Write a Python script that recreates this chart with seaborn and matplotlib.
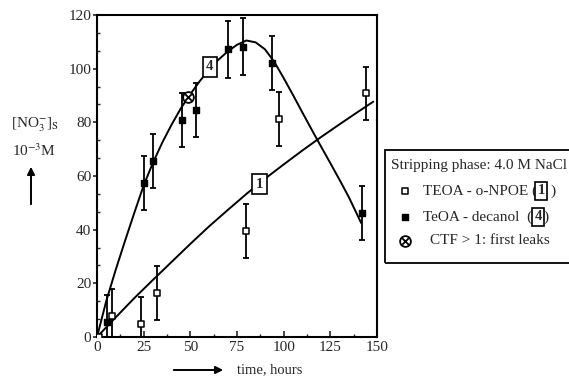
import numpy as np
import pandas as pd
import matplotlib
matplotlib.use("Agg")
import matplotlib.pyplot as plt
import seaborn as sns
from matplotlib.ticker import MultipleLocator, AutoMinorLocator
from matplotlib.patches import Rectangle

# --- datos ---
# TEOA - o-NPOE (1), cuadrados abiertos
t_npoe = [1.0, 8.2, 23.4, 32.3, 79.8, 97.5, 144.1]
y_npoe = [0.0, 7.8, 4.8, 16.5, 39.6, 81.2, 90.8]
e_npoe = [0.0, 10, 10, 10, 10, 10, 10]

# TeOA - decanol (4), cuadrados llenos
t_dec = [5.4, 25.4, 30.2, 45.7, 53.0, 70.0, 78.4, 93.6, 141.8]
y_dec = [5.7, 57.3, 65.7, 80.9, 84.6, 107.2, 108.2, 102.0, 46.1]
e_dec = [10, 10, 10, 10, 10, 10.5, 10.5, 10, 10]

# curvas trazadas a mano
curva1_t = [0, 10, 20, 30, 40, 50, 60, 70, 80, 90, 100, 110, 120, 130, 140, 148]
curva1_y = [0, 7.3, 14.5, 21.3, 28, 34.7, 41.2, 47.3, 53.3, 59, 64.3, 69.5, 74.5, 79.3, 84, 87.7]

curva4_t = [0, 5, 10, 15, 20, 25, 30, 35, 40, 45, 50, 55, 60, 65, 70, 75, 80, 85, 90,
            95, 100, 105, 110, 115, 120, 125, 130, 135, 141.5]
curva4_y = [0, 13.5, 25, 35.8, 46.3, 56.5, 65, 72.5, 79.2, 85.3, 90.5, 95.3, 99.6, 103.3,
            106.4, 108.9, 110.5, 109.8, 107.2, 102.5, 96.5, 90.2, 83.7, 77.3, 71, 64.8,
            58.5, 52, 42.5]

# primera fuga (CTF > 1)
ctf_t = [49.0]
ctf_y = [89.6]

# etiquetas de curva
etiq_txt = ["1", "4"]
etiq_t = [87.0, 60.5]
etiq_y = [57.0, 100.7]

sns.set_style("ticks")
plt.rcParams['font.family'] = ['Liberation Serif', 'DejaVu Serif']
plt.rcParams['mathtext.fontset'] = 'stix'

W, H = 569, 379
fig = plt.figure(figsize=(W / 100, H / 100), dpi=100)
ax = fig.add_axes([97 / W, 1 - 337 / H, 280 / W, 322 / H])


def px(x, y):
    return (x / W, 1 - y / H)


df1 = pd.DataFrame({'t': curva1_t, 'y': curva1_y})
df4 = pd.DataFrame({'t': curva4_t, 'y': curva4_y})
sns.lineplot(data=df1, x='t', y='y', color='black', lw=1.4, ax=ax, zorder=2)
sns.lineplot(data=df4, x='t', y='y', color='black', lw=1.4, ax=ax, zorder=2)

ax.errorbar(t_npoe, y_npoe, yerr=e_npoe, fmt='none', ecolor='black', elinewidth=1.3,
            capsize=2.4, capthick=1.3, zorder=3)
ax.errorbar(t_dec, y_dec, yerr=e_dec, fmt='none', ecolor='black', elinewidth=1.3,
            capsize=2.4, capthick=1.3, zorder=3)

sns.scatterplot(x=t_npoe, y=y_npoe, marker='s', s=16, facecolor='white',
                edgecolor='black', linewidth=1.1, ax=ax, zorder=4)
sns.scatterplot(x=t_dec, y=y_dec, marker='s', s=16, color='black',
                edgecolor='black', linewidth=1.0, ax=ax, zorder=4)
sns.scatterplot(x=ctf_t, y=ctf_y, marker='o', s=60, facecolor='white',
                edgecolor='black', linewidth=1.3, ax=ax, zorder=5)
sns.scatterplot(x=ctf_t, y=ctf_y, marker='x', s=22, color='black',
                linewidth=1.3, ax=ax, zorder=6)

for txt, tx, ty in zip(etiq_txt, etiq_t, etiq_y):
    ax.text(tx, ty, txt, ha='center', va='center', fontsize=10.5, fontweight='bold',
            zorder=7, bbox=dict(boxstyle='square,pad=0.25', fc='white', ec='black', lw=1.2))

ax.set_xlim(0, 150)
ax.set_ylim(0, 120)
ax.xaxis.set_major_locator(MultipleLocator(25))
ax.xaxis.set_minor_locator(AutoMinorLocator(2))
ax.yaxis.set_major_locator(MultipleLocator(20))
ax.yaxis.set_minor_locator(AutoMinorLocator(3))
ax.tick_params(axis='x', which='major', direction='in', length=4, width=1.2, labelsize=11, pad=3)
ax.tick_params(axis='x', which='minor', direction='in', length=2.5, width=1)
ax.tick_params(axis='y', which='major', direction='out', length=3, width=1.2, labelsize=11, pad=1)
ax.tick_params(axis='y', which='minor', direction='in', length=2.5, width=1)
for sp in ax.spines.values():
    sp.set_visible(True)
    sp.set_linewidth(1.5)
    sp.set_color('black')
ax.set_xlabel('')
ax.set_ylabel('')

# etiqueta del eje y con flecha
fig.text(*px(35, 125), r'[NO$_3^{-}$]$_{\rm S}$', ha='center', va='center', fontsize=11)
fig.text(*px(34, 151), r'10$^{-3}$M', ha='center', va='center', fontsize=11)
ax.annotate('', xy=px(31, 164), xytext=px(31, 207), xycoords='figure fraction',
            textcoords='figure fraction',
            arrowprops=dict(arrowstyle='-|>', color='black', lw=1.4, mutation_scale=11))

# etiqueta del eje x con flecha
ax.annotate('', xy=px(226, 370), xytext=px(171, 370), xycoords='figure fraction',
            textcoords='figure fraction',
            arrowprops=dict(arrowstyle='-|>', color='black', lw=1.4, mutation_scale=11))
fig.text(*px(237, 370), 'time, hours', ha='left', va='center', fontsize=10.5)

# leyenda dibujada a mano
fig.add_artist(Rectangle(px(385, 263), 200 / W, 113 / H, transform=fig.transFigure,
                         fill=False, ec='black', lw=1.3, clip_on=False))
fig.text(*px(391, 166), 'Stripping phase: 4.0 M NaCl', ha='left', va='center', fontsize=11)
t1 = fig.text(*px(423, 191), 'TEOA - o-NPOE (', ha='left', va='center', fontsize=11)
t4 = fig.text(*px(423, 217), 'TeOA - decanol  (', ha='left', va='center', fontsize=11)
fig.text(*px(430, 241), 'CTF > 1: first leaks', ha='left', va='center', fontsize=11)

fig.canvas.draw()
ren = fig.canvas.get_renderer()
for tt, txt, y0, dbox, dpar in [(t1, "1", 191, 4, 12), (t4, "4", 217, 6, 8)]:
    x_end = tt.get_window_extent(ren).x1
    xc = x_end + dbox
    fig.text(xc / W, 1 - y0 / H, txt, ha='center', va='center', fontsize=10.5,
             fontweight='bold',
             bbox=dict(boxstyle='square,pad=0.15', fc='white', ec='black', lw=1.2))
    fig.text((xc + dpar) / W, 1 - y0 / H, ')', ha='center', va='center', fontsize=11)

leg = fig.add_axes([0, 0, 1, 1], facecolor='none')
leg.set_xlim(0, W)
leg.set_ylim(H, 0)
leg.axis('off')
leg.scatter([405], [191], marker='s', s=16, facecolor='white', edgecolor='black', linewidths=1.1)
leg.scatter([405], [217], marker='s', s=16, color='black')
leg.scatter([405], [241], marker='o', s=60, facecolor='white', edgecolor='black', linewidths=1.3)
leg.scatter([405], [241], marker='x', s=22, color='black', linewidths=1.3)

fig.savefig('out.png', dpi=100)
